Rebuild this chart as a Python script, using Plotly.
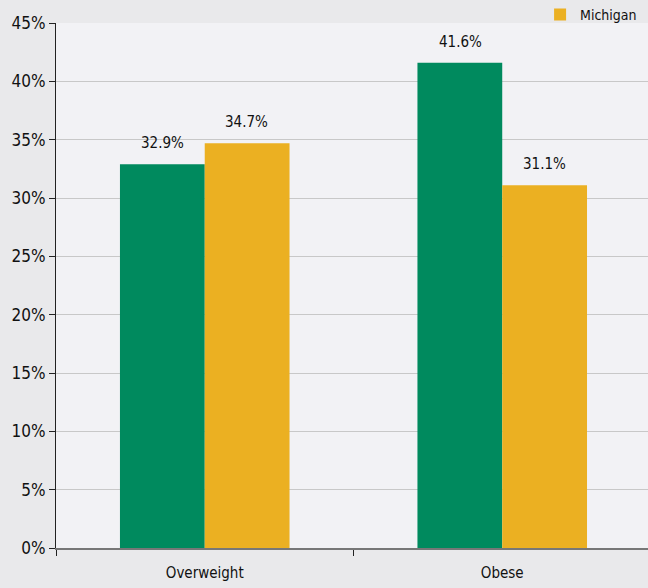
import plotly.graph_objects as go

categories = ["Overweight", "Obese"]
local_values = [32.9, 41.6]
michigan_values = [34.7, 31.1]
y_ticks = [0, 5, 10, 15, 20, 25, 30, 35, 40, 45]
y_tick_labels = [f"{v}%" for v in y_ticks]

FONT = "DejaVu Sans Condensed, Liberation Sans Narrow, Arial Narrow, sans-serif"
GREEN = "#008A5E"
YELLOW = "#EBB022"

fig = go.Figure()
fig.add_trace(go.Bar(
    x=categories, y=local_values, name="Local",
    marker=dict(color=GREEN, line=dict(width=0)),
    showlegend=False,
))
fig.add_trace(go.Bar(
    x=categories, y=michigan_values, name="Michigan",
    marker=dict(color=YELLOW, line=dict(width=0)),
))

for cat, lv, mv in zip(categories, local_values, michigan_values):
    for val, shift in ((lv, -42), (mv, 42)):
        fig.add_annotation(x=cat, y=val, xref="x", yref="y", text=f"{val:.1f}%",
                           showarrow=False, xshift=shift, yshift=21,
                           font=dict(family=FONT, size=15, color="#111111"))

fig.update_layout(
    width=648, height=588,
    margin=dict(l=56, r=0, t=23, b=40, autoexpand=False),
    barmode="group", bargap=0.43, bargroupgap=0,
    paper_bgcolor="#E9E9EB", plot_bgcolor="#F2F2F5",
    font=dict(family=FONT, size=16, color="#111111"),
    legend=dict(x=0.99, xanchor="right", y=1.046, yanchor="top",
                orientation="h", bgcolor="rgba(0,0,0,0)",
                font=dict(family=FONT, size=14, color="#111111"),
                itemwidth=30, tracegroupgap=0),
    xaxis=dict(range=[-0.5, 1.49], showgrid=False, tickson="boundaries",
               ticks="outside", ticklen=6, tickcolor="#222222",
               showline=True, linecolor="#777777", linewidth=2,
               ticklabelstandoff=10,
               tickfont=dict(family=FONT, size=15, color="#111111")),
    yaxis=dict(range=[0, 45], tickvals=y_ticks, ticktext=y_tick_labels,
               showgrid=True, gridcolor="#C8C8C8", gridwidth=1,
               ticks="outside", ticklen=6, tickcolor="#222222",
               showline=True, linecolor="#222222", linewidth=1,
               zeroline=False,
               tickfont=dict(family=FONT, size=17, color="#111111")),
)

fig.write_html("out.html", config={"displayModeBar": False},
               post_script="document.body.style.margin='0';document.body.style.background='#E9E9EB';")
